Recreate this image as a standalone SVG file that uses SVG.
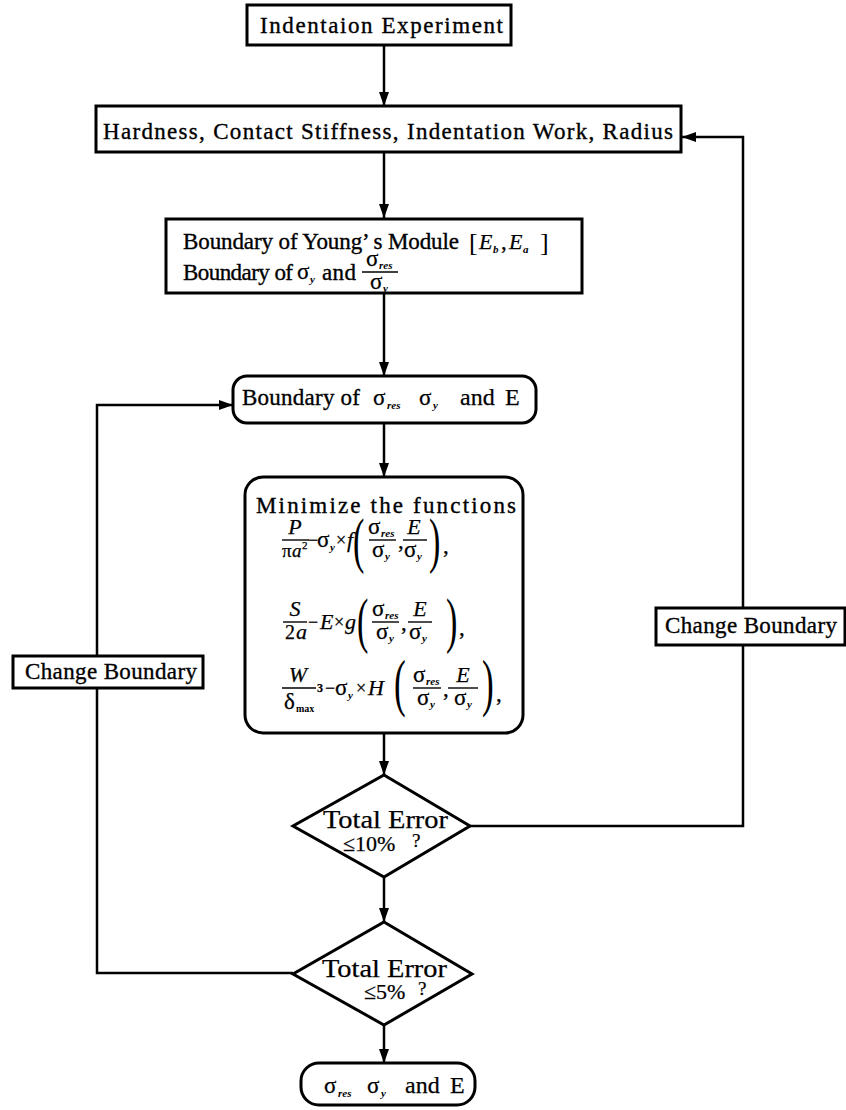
<svg xmlns="http://www.w3.org/2000/svg" width="846" height="1110" viewBox="0 0 846 1110">
<style>
.box{fill:#fff;stroke:#000;stroke-width:3}
.ln{fill:none;stroke:#000;stroke-width:2.5}
.bar{stroke:#000;stroke-width:1.4}
.t{font-family:"Liberation Serif",serif;font-size:23px;fill:#000;stroke:#000;stroke-width:0.35}
.m{font-family:"Liberation Serif",serif;font-size:23px;fill:#000;stroke:#000;stroke-width:0.25}
.mi{font-family:"Liberation Serif",serif;font-size:22px;font-style:italic;fill:#000;stroke:#000;stroke-width:0.25}
.s{font-family:"Liberation Serif",serif;font-size:11px;font-style:italic;font-weight:bold;fill:#000}
.sr{font-family:"Liberation Serif",serif;font-size:24px;fill:#000;stroke:#000;stroke-width:0.25}
.p{font-family:"Liberation Serif",serif;fill:#000}
</style>
<defs>
<marker id="ah" viewBox="0 0 14 10" markerWidth="14" markerHeight="10" refX="14" refY="5" orient="auto" markerUnits="userSpaceOnUse">
<path d="M0,0 L14,5 L0,10 Z" fill="#000"/>
</marker>
</defs>

<g id="connectors">
<line class="ln" x1="384" y1="45" x2="384" y2="106" marker-end="url(#ah)"/>
<line class="ln" x1="384" y1="152" x2="384" y2="218" marker-end="url(#ah)"/>
<line class="ln" x1="384" y1="293" x2="384" y2="376" marker-end="url(#ah)"/>
<line class="ln" x1="384" y1="423" x2="384" y2="477" marker-end="url(#ah)"/>
<line class="ln" x1="384" y1="733" x2="384" y2="775" marker-end="url(#ah)"/>
<line class="ln" x1="384" y1="877" x2="384" y2="922" marker-end="url(#ah)"/>
<line class="ln" x1="384" y1="1025" x2="384" y2="1063" marker-end="url(#ah)"/>
<polyline class="ln" points="470,826 743,826 743,137 682,137" marker-end="url(#ah)"/>
<polyline class="ln" points="293,973 97,973 97,405 233,405" marker-end="url(#ah)"/>
</g>

<g id="n1">
<rect class="box" x="247" y="5" width="264" height="40"/>
<text class="t" x="260" y="33" textLength="243" lengthAdjust="spacing">Indentaion Experiment</text>
</g>

<g id="n2">
<rect class="box" x="96" y="106" width="585" height="46"/>
<text class="t" x="103" y="139" textLength="570" lengthAdjust="spacing">Hardness, Contact Stiffness, Indentation Work, Radius</text>
</g>

<g id="n3">
<rect class="box" x="166" y="219" width="416" height="74"/>
<text class="t" x="183" y="249" textLength="276" lengthAdjust="spacing">Boundary of Young’ s Module</text>
<text class="p" x="469" y="251" style="font-size:26px">[</text>
<text class="mi" x="479" y="249">E</text>
<text class="s" x="493" y="253">b</text>
<text class="m" x="501" y="249">,</text>
<text class="mi" x="509" y="249">E</text>
<text class="s" x="523" y="253">a</text>
<text class="p" x="540" y="251" style="font-size:26px">]</text>
<text class="t" x="183" y="280" textLength="110" lengthAdjust="spacing">Boundary of</text>
<text class="m" x="297" y="279">σ</text>
<text class="s" x="310" y="283">y</text>
<text class="t" x="322" y="280" textLength="34" lengthAdjust="spacing">and</text>
<text class="m" x="366" y="266">σ</text>
<text class="s" x="379" y="269">res</text>
<line class="bar" x1="362" y1="272" x2="398" y2="272"/>
<text class="m" x="370" y="289">σ</text>
<text class="s" x="383" y="292">y</text>
</g>

<g id="n4">
<rect class="box" x="233" y="376" width="303" height="47" rx="14"/>
<text class="t" x="242" y="405" textLength="118" lengthAdjust="spacing">Boundary of</text>
<text class="m" x="373" y="405">σ</text>
<text class="s" x="387" y="409">res</text>
<text class="m" x="419" y="405">σ</text>
<text class="s" x="433" y="409">y</text>
<text class="sr" x="460" y="405">and</text>
<text class="sr" x="505" y="405">E</text>
</g>

<g id="n5">
<rect class="box" x="245" y="477" width="278" height="256" rx="18"/>
<text class="t" x="256" y="513" textLength="260" lengthAdjust="spacing">Minimize the functions</text>
<!-- formula 1 -->
<text class="mi" x="295" y="534" text-anchor="middle">P</text>
<line class="bar" x1="282" y1="540" x2="309" y2="540"/>
<text class="m" x="282" y="557" style="font-size:19px">π</text>
<text class="mi" x="292" y="557" style="font-size:19px">a</text>
<text class="m" x="302" y="549" style="font-size:11px">2</text>
<text class="m" x="308" y="546" style="font-size:18px">−</text>
<text class="m" x="317" y="547">σ</text>
<text class="s" x="330" y="551">y</text>
<text class="m" x="336" y="546" style="font-size:18px">×</text>
<text class="mi" x="347" y="547">f</text>
<text class="p" transform="translate(353 561) scale(0.55 1)" style="font-size:62px">(</text>
<text class="m" x="368" y="534">σ</text>
<text class="s" x="381" y="537">res</text>
<line class="bar" x1="369" y1="540" x2="396" y2="540"/>
<text class="m" x="372" y="557">σ</text>
<text class="s" x="385" y="560">y</text>
<text class="m" x="398" y="548">,</text>
<text class="mi" x="414" y="534" text-anchor="middle">E</text>
<line class="bar" x1="403" y1="540" x2="427" y2="540"/>
<text class="m" x="404" y="557">σ</text>
<text class="s" x="417" y="560">y</text>
<text class="p" transform="translate(429 561) scale(0.55 1)" style="font-size:62px">)</text>
<text class="m" x="443" y="553">,</text>
<!-- formula 2 -->
<text class="mi" x="295" y="616" text-anchor="middle">S</text>
<line class="bar" x1="283" y1="622" x2="307" y2="622"/>
<text class="m" x="285" y="639" style="font-size:20px">2</text>
<text class="mi" x="296" y="639">a</text>
<text class="m" x="308" y="628" style="font-size:18px">−</text>
<text class="mi" x="320" y="629">E</text>
<text class="m" x="334" y="628" style="font-size:18px">×</text>
<text class="mi" x="345" y="629">g</text>
<text class="p" transform="translate(357 641) scale(0.55 1)" style="font-size:62px">(</text>
<text class="m" x="372" y="616">σ</text>
<text class="s" x="385" y="619">res</text>
<line class="bar" x1="372" y1="622" x2="399" y2="622"/>
<text class="m" x="376" y="639">σ</text>
<text class="s" x="389" y="642">y</text>
<text class="m" x="401" y="630">,</text>
<text class="mi" x="420" y="616" text-anchor="middle">E</text>
<line class="bar" x1="408" y1="622" x2="432" y2="622"/>
<text class="m" x="409" y="639">σ</text>
<text class="s" x="422" y="642">y</text>
<text class="p" transform="translate(446 641) scale(0.55 1)" style="font-size:62px">)</text>
<text class="m" x="459" y="635">,</text>
<!-- formula 3 -->
<text class="mi" x="298" y="682" text-anchor="middle">W</text>
<line class="bar" x1="282" y1="688" x2="316" y2="688"/>
<text class="m" x="284" y="709">δ</text>
<text class="s" x="296" y="712" style="font-size:10px;font-style:normal">max</text>
<text class="m" x="317" y="692" style="font-size:12px;font-weight:bold">3</text>
<text class="m" x="325" y="694" style="font-size:18px">−</text>
<text class="m" x="335" y="695">σ</text>
<text class="s" x="348" y="699">y</text>
<text class="m" x="356" y="694" style="font-size:18px">×</text>
<text class="mi" x="368" y="695">H</text>
<text class="p" transform="translate(394 704) scale(0.55 1)" style="font-size:64px">(</text>
<text class="m" x="413" y="682">σ</text>
<text class="s" x="426" y="685">res</text>
<line class="bar" x1="413" y1="688" x2="441" y2="688"/>
<text class="m" x="417" y="705">σ</text>
<text class="s" x="430" y="708">y</text>
<text class="m" x="443" y="696">,</text>
<text class="mi" x="463" y="682" text-anchor="middle">E</text>
<line class="bar" x1="448" y1="688" x2="478" y2="688"/>
<text class="m" x="454" y="705">σ</text>
<text class="s" x="467" y="708">y</text>
<text class="p" transform="translate(482 704) scale(0.55 1)" style="font-size:64px">)</text>
<text class="m" x="496" y="701">,</text>
</g>

<g id="n6">
<polygon class="box" points="384,775 470,826 384,877 293,826"/>
<text class="sr" x="323" y="828" style="font-size:26px" textLength="125" lengthAdjust="spacingAndGlyphs">Total Error</text>
<text class="m" x="343" y="851" style="font-size:22px">≤10%</text>
<text class="m" x="412" y="847" style="font-size:19px">?</text>
</g>

<g id="n7">
<polygon class="box" points="384,922 472,974 384,1025 293,974"/>
<text class="sr" x="322" y="977" style="font-size:26px" textLength="125" lengthAdjust="spacingAndGlyphs">Total Error</text>
<text class="m" x="364" y="999" style="font-size:22px">≤5%</text>
<text class="m" x="418" y="995" style="font-size:19px">?</text>
</g>

<g id="n8">
<rect class="box" x="301" y="1063" width="174" height="42" rx="18"/>
<text class="m" x="324" y="1093">σ</text>
<text class="s" x="338" y="1097">res</text>
<text class="m" x="367" y="1093">σ</text>
<text class="s" x="381" y="1097">y</text>
<text class="sr" x="405" y="1093">and</text>
<text class="sr" x="450" y="1093">E</text>
</g>

<g id="n9">
<rect class="box" x="13" y="656" width="190" height="32"/>
<text class="t" x="25" y="679" textLength="172" lengthAdjust="spacing">Change Boundary</text>
</g>

<g id="n10">
<rect class="box" x="656" y="608" width="189" height="37"/>
<text class="t" x="665" y="633" textLength="172" lengthAdjust="spacing">Change Boundary</text>
</g>
</svg>
